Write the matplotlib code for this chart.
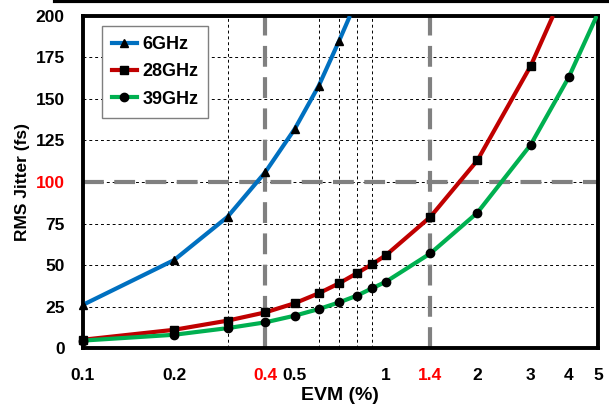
import numpy as np
import matplotlib
matplotlib.use("Agg")
import matplotlib.pyplot as plt
from matplotlib.lines import Line2D

plt.rcParams['font.family'] = ['Liberation Sans', 'DejaVu Sans']
plt.rcParams['font.weight'] = 'bold'

# data (EVM in %, jitter in fs)
evm_6 = [0.1, 0.2, 0.3, 0.4, 0.5, 0.6, 0.7]
jit_6 = [26, 53, 79, 106, 132, 158, 185]
end_6 = (0.76, 200)

evm_28 = [0.1, 0.2, 0.3, 0.4, 0.5, 0.6, 0.7, 0.8, 0.9, 1.0, 1.4, 2, 3]
jit_28 = [5, 11, 16.5, 21.5, 27, 33, 39, 45, 50.5, 56, 79, 113, 170]
end_28 = (3.55, 200)

evm_39 = [0.1, 0.2, 0.3, 0.4, 0.5, 0.6, 0.7, 0.8, 0.9, 1.0, 1.4, 2, 3, 4]
jit_39 = [4.5, 8, 12, 15.5, 19.5, 23.5, 27.5, 31.5, 36, 40, 57, 81.5, 122.5, 163]
end_39 = (4.95, 200)

xticks = [0.1, 0.2, 0.4, 0.5, 1, 1.4, 2, 3, 4, 5]
xtick_labels = ['0.1', '0.2', '0.4', '0.5', '1', '1.4', '2', '3', '4', '5']
xgrid = [0.2, 0.3, 0.5, 0.6, 0.7, 0.8, 0.9, 1, 2, 3, 4]
yticks = list(range(0, 201, 25))
red_x = ['0.4', '1.4']
red_y = ['100']
limit_evm = [0.4, 1.4]
limit_jit = 100

fig = plt.figure(figsize=(6.09, 4.09), dpi=100)
ax = fig.add_axes([0.136, 0.149, 0.846, 0.812])

ax.set_xscale('log')
ax.set_xlim(0.1, 5)
ax.set_ylim(0, 200)

# grid
ax.set_xticks(xticks)
ax.set_xticklabels(xtick_labels)
ax.set_xticks(xgrid, minor=True)
ax.set_xticklabels([], minor=True)
ax.set_yticks(yticks)
ax.grid(True, which='minor', axis='x', color='black', ls=(0, (3, 3)), lw=0.7)
ax.grid(True, which='major', axis='y', color='black', ls=(0, (3, 3)), lw=0.7)
ax.set_axisbelow(True)

# limit lines
for v in limit_evm:
    ax.axvline(v, color='#808080', lw=3, ls=(0, (5, 2.5)), zorder=2)
ax.axhline(limit_jit, color='#808080', lw=3, ls=(0, (5, 2.5)), zorder=2)

series = [
    (evm_6, jit_6, end_6, '#0070C0', '^', '6GHz'),
    (evm_28, jit_28, end_28, '#C00000', 's', '28GHz'),
    (evm_39, jit_39, end_39, '#00B050', 'o', '39GHz'),
]
handles = []
for xs, ys, end, col, mk, lab in series:
    ax.plot(list(xs) + [end[0]], list(ys) + [end[1]], color=col, lw=3,
            zorder=3, solid_capstyle='butt', solid_joinstyle='round')
    ax.plot(xs, ys, ls='none', marker=mk, color='black', ms=6, zorder=4,
            clip_on=False)
    handles.append(Line2D([], [], color=col, lw=3, marker=mk, mfc='black',
                          mec='black', ms=6, label=lab))

leg = ax.legend(handles=handles, loc='upper left', bbox_to_anchor=(0.037, 0.97),
                borderaxespad=0, handlelength=1.4, handletextpad=0.3,
                labelspacing=0.58, borderpad=0.55,
                fancybox=False, edgecolor='#7f7f7f', framealpha=1,
                prop={'weight': 'bold', 'size': 13})
leg.get_frame().set_linewidth(1.0)

for s in ax.spines.values():
    s.set_linewidth(2.8)
    s.set_color('black')

ax.tick_params(axis='both', which='both', length=0, labelsize=12.5)
ax.tick_params(axis='x', pad=14)
ax.tick_params(axis='y', pad=13)
for t in ax.get_xticklabels():
    t.set_fontweight('bold')
    if t.get_text() in red_x:
        t.set_color('red')
for t in ax.get_yticklabels():
    t.set_fontweight('bold')
    if t.get_text() in red_y:
        t.set_color('red')

ax.set_xlabel('EVM (%)', fontsize=14, fontweight='bold', labelpad=3)
ax.set_ylabel('RMS Jitter (fs)', fontsize=12.5, fontweight='bold', labelpad=4)

fig.add_artist(Line2D([0.09, 1.0], [0.997, 0.997], color='black', lw=3,
                      transform=fig.transFigure))

fig.savefig('out.png', dpi=100)
